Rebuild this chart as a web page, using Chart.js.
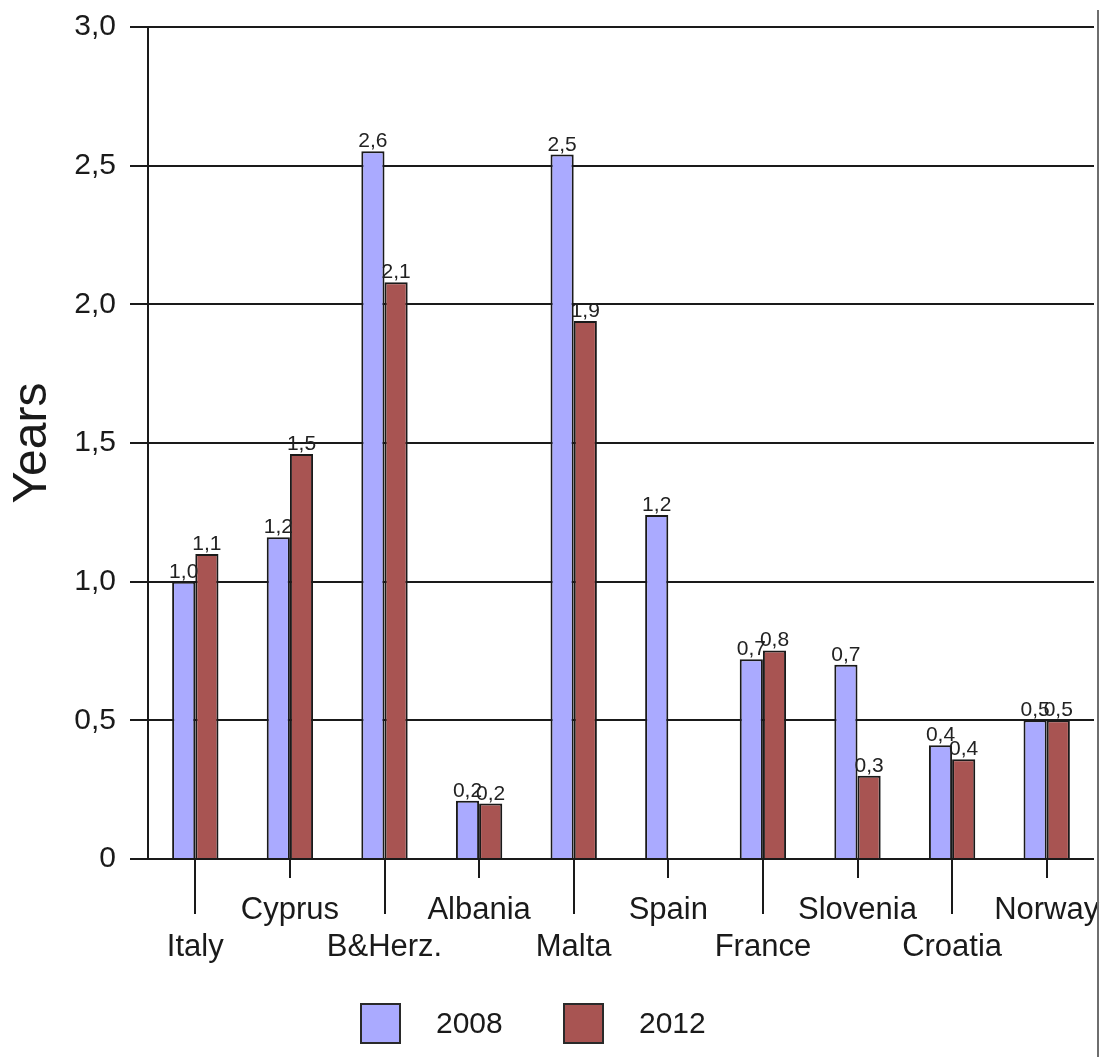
<!DOCTYPE html>
<html>
<head>
<meta charset="utf-8">
<title>Years</title>
<script src="https://cdn.jsdelivr.net/npm/chart.js@4.4.1/dist/chart.umd.min.js"></script>
<style>
  html, body { margin: 0; padding: 0; background: #fff; }
  #wrap { position: relative; width: 1104px; height: 1057px; }
  #edge { position: absolute; left: 1097px; top: 10px; bottom: 0; border-left: 2px solid #6e6e6e; }
</style>
</head>
<body>
<div id="wrap">
  <canvas id="chart" width="1104" height="1057"></canvas>
  <div id="edge"></div>
</div>
<script>
const countries = ["Italy", "Cyprus", "B&Herz.", "Albania", "Malta", "Spain", "France", "Slovenia", "Croatia", "Norway"];
const years2008 = [1.00, 1.16, 2.552, 0.21, 2.54, 1.24, 0.72, 0.70, 0.41, 0.50];
const years2012 = [1.10, 1.46, 2.08, 0.20, 1.94, null, 0.752, 0.30, 0.36, 0.50];
const seriesNames = ["2008", "2012"];

const FONT = '"Liberation Sans", Arial, sans-serif';
const INK = "#1a1a1a";

// comma as decimal separator, one digit
const fmt = (v) => v.toFixed(1).replace(".", ",");

// value printed on top of every bar
const valueLabels = {
  id: "valueLabels",
  afterDatasetsDraw(chart) {
    const ctx = chart.ctx;
    ctx.save();
    ctx.font = "21px " + FONT;
    ctx.fillStyle = "#222";
    ctx.textAlign = "center";
    ctx.textBaseline = "alphabetic";
    chart.data.datasets.forEach((ds, di) => {
      chart.getDatasetMeta(di).data.forEach((bar, i) => {
        const v = ds.data[i];
        if (v === null) return;
        ctx.fillText(fmt(v), bar.x, bar.y - 4);
      });
    });
    ctx.restore();
  }
};

// tick marks under the axis, long ones for the lower row of names
const categoryTicks = {
  id: "categoryTicks",
  afterDraw(chart) {
    const xs = chart.scales.x;
    const ctx = chart.ctx;
    const base = chart.chartArea.bottom;
    ctx.save();
    ctx.strokeStyle = INK;
    ctx.lineWidth = 2;
    countries.forEach((c, i) => {
      const px = Math.round(xs.getPixelForValue(i));
      ctx.beginPath();
      ctx.moveTo(px, base);
      ctx.lineTo(px, base + (i % 2 ? 19 : 55));
      ctx.stroke();
    });
    ctx.restore();
  }
};

// legend row at the bottom: square swatch, then the year
const bottomLegend = {
  id: "bottomLegend",
  afterDraw(chart) {
    const ctx = chart.ctx;
    const boxX = [361, 564];
    const textX = [436, 639];
    const top = 1004;
    const size = 39;
    ctx.save();
    ctx.font = "30px " + FONT;
    ctx.textAlign = "left";
    ctx.textBaseline = "middle";
    ctx.lineWidth = 2;
    ctx.strokeStyle = "#2a2a2a";
    chart.data.datasets.forEach((ds, i) => {
      ctx.fillStyle = ds.backgroundColor;
      ctx.fillRect(boxX[i], top, size, size);
      ctx.strokeRect(boxX[i], top, size, size);
      ctx.fillStyle = INK;
      ctx.fillText(ds.label, textX[i], top + size / 2 + 1);
    });
    ctx.restore();
  }
};

new Chart(document.getElementById("chart"), {
  type: "bar",
  plugins: [valueLabels, categoryTicks, bottomLegend],
  data: {
    labels: countries,
    datasets: [
      {
        label: seriesNames[0],
        data: years2008,
        backgroundColor: "#aaaaff",
        borderColor: INK,
        borderWidth: 2
      },
      {
        label: seriesNames[1],
        data: years2012,
        backgroundColor: "#a85452",
        borderColor: INK,
        borderWidth: 2
      }
    ]
  },
  options: {
    responsive: false,
    animation: false,
    layout: { padding: { top: 27, right: 10, bottom: 88, left: 0 } },
    datasets: {
      bar: { categoryPercentage: 0.49, barPercentage: 1.0 }
    },
    scales: {
      x: {
        offset: true,
        grid: { display: false, drawTicks: false },
        border: { display: false },
        ticks: {
          autoSkip: false,
          maxRotation: 0,
          padding: 33,
          color: INK,
          font: { family: FONT, size: 31, lineHeight: 1.2 },
          callback: function (v, i) {
            const name = this.getLabelForValue(v);
            return i % 2 ? name : ["", name];
          }
        },
        afterFit: (s) => {
          s.height = 110;
          s.paddingLeft = 0;
          s.paddingRight = 0;
        }
      },
      y: {
        min: 0,
        max: 3,
        grid: { color: INK, lineWidth: 2, tickLength: 18 },
        border: { display: true, color: INK, width: 2 },
        ticks: {
          stepSize: 0.5,
          padding: 14,
          color: INK,
          font: { family: FONT, size: 30 },
          callback: (v) => (v === 0 ? "0" : fmt(v))
        },
        title: {
          display: true,
          text: "Years",
          color: INK,
          font: { family: FONT, size: 48 },
          padding: { top: 4, bottom: 0 }
        },
        afterFit: (s) => {
          s.width = 148;
          s.paddingTop = 0;
          s.paddingBottom = 0;
        }
      }
    },
    plugins: {
      tooltip: { enabled: false },
      legend: { display: false }
    }
  }
});
</script>
</body>
</html>
